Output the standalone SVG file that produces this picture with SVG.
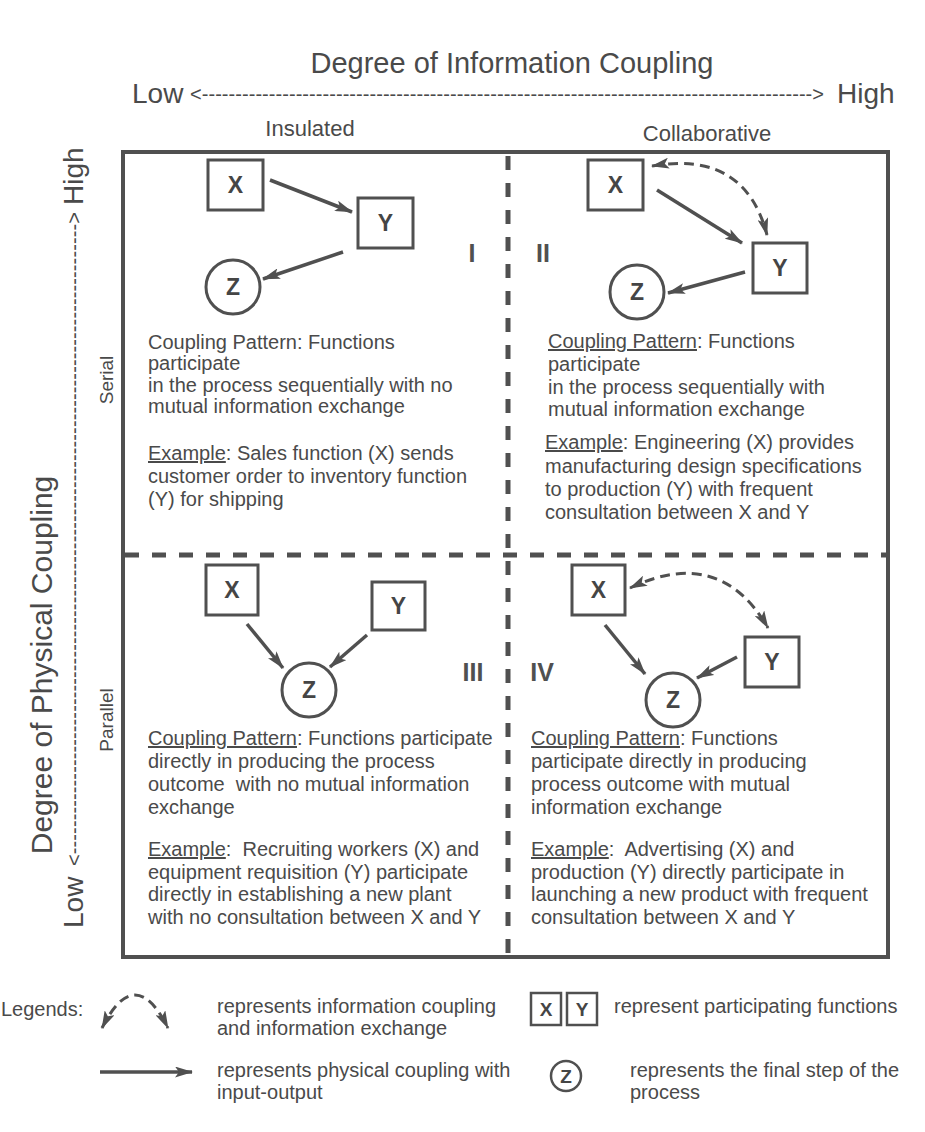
<svg xmlns="http://www.w3.org/2000/svg" width="925" height="1132" viewBox="0 0 925 1132">
  <style>
    text { font-family: "Liberation Sans", Arial, sans-serif; fill: #4a4a4a; }
    .title { font-size: 29px; }
    .axisend { font-size: 28px; }
    .dots { font-size: 20px; }
    .head { font-size: 22px; }
    .side { font-size: 19px; }
    .body { font-size: 20px; }
    .legend { font-size: 20px; }
    .roman { font-size: 25px; font-weight: bold; text-anchor: middle; fill: #505050; }
    .u { text-decoration: underline; }
    .node rect, .node circle { fill: #fff; stroke: #505050; stroke-width: 3; }
    .node text { font-size: 23px; font-weight: bold; text-anchor: middle; fill: #454545; }
    .lnode rect, .lnode circle { fill: #fff; stroke: #505050; stroke-width: 2.5; }
    .lnode text { font-size: 19px; font-weight: bold; text-anchor: middle; fill: #454545; }
    .phys { fill: none; stroke: #505050; stroke-width: 3.5; marker-end: url(#head); }
    .info { fill: none; stroke: #505050; stroke-width: 3; stroke-dasharray: 10 6; marker-start: url(#head); marker-end: url(#head); }
    .frame { fill: none; stroke: #505050; stroke-width: 4; }
    .divider { fill: none; stroke: #505050; stroke-width: 5; stroke-dasharray: 14 13; }
  </style>
  <defs>
    <marker id="head" viewBox="0 0 18 11" refX="17" refY="5.5" markerWidth="18" markerHeight="11" markerUnits="userSpaceOnUse" orient="auto-start-reverse">
      <path d="M0,0 L18,5.5 L0,11 L4,5.5 z" fill="#505050"/>
    </marker>
  </defs>

  <rect width="925" height="1132" fill="#fff"/>

  <!-- horizontal axis -->
  <g id="axis-information">
    <text class="title" x="512" y="73" text-anchor="middle">Degree of Information Coupling</text>
    <text class="axisend" x="132" y="103">Low</text>
    <text class="dots" x="190" y="101" textLength="634" lengthAdjust="spacing">&lt;-------------------------------------------------------------------------------------------&gt;</text>
    <text class="axisend" x="837" y="103">High</text>
    <text class="head" x="310" y="136" text-anchor="middle">Insulated</text>
    <text class="head" x="707" y="141" text-anchor="middle">Collaborative</text>
  </g>

  <!-- vertical axis -->
  <g id="axis-physical">
    <text class="title" transform="translate(52,665) rotate(-90)" text-anchor="middle" style="font-size:30px">Degree of Physical Coupling</text>
    <text class="axisend" transform="translate(83,928) rotate(-90)">Low</text>
    <text class="dots" transform="translate(81,866) rotate(-90)" textLength="654" lengthAdjust="spacing">&lt;---------------------------------------------------------------------------------------------&gt;</text>
    <text class="axisend" transform="translate(83,205) rotate(-90)">High</text>
    <text class="side" transform="translate(113,380) rotate(-90)" text-anchor="middle">Serial</text>
    <text class="side" transform="translate(113,720) rotate(-90)" text-anchor="middle">Parallel</text>
  </g>

  <!-- matrix frame and quadrant dividers -->
  <g id="matrix">
    <rect class="frame" x="123" y="152" width="765" height="805"/>
    <line class="divider" x1="125" y1="555" x2="886" y2="555"/>
    <line class="divider" x1="508" y1="156" x2="508" y2="955"/>
    <text class="roman" x="472" y="262">I</text>
    <text class="roman" x="543" y="262">II</text>
    <text class="roman" x="473" y="681">III</text>
    <text class="roman" x="542" y="681">IV</text>
  </g>

  <!-- quadrant I nodes -->
  <g id="q1-x" class="node"><rect x="208" y="160" width="55" height="50"/><text x="235.5" y="193">X</text></g>
  <g id="q1-y" class="node"><rect x="358" y="198" width="55" height="50"/><text x="385.5" y="231">Y</text></g>
  <g id="q1-z" class="node"><circle cx="233" cy="287" r="27"/><text x="233" y="295">Z</text></g>

  <!-- quadrant II nodes -->
  <g id="q2-x" class="node"><rect x="588" y="160" width="55" height="50"/><text x="615.5" y="193">X</text></g>
  <g id="q2-y" class="node"><rect x="753" y="243" width="54" height="50"/><text x="780" y="276">Y</text></g>
  <g id="q2-z" class="node"><circle cx="637" cy="292" r="27"/><text x="637" y="300">Z</text></g>

  <!-- quadrant III nodes -->
  <g id="q3-x" class="node"><rect x="206" y="565" width="52" height="50"/><text x="232" y="598">X</text></g>
  <g id="q3-y" class="node"><rect x="372" y="582" width="53" height="48"/><text x="398.5" y="614">Y</text></g>
  <g id="q3-z" class="node"><circle cx="309" cy="690" r="27"/><text x="309" y="698">Z</text></g>

  <!-- quadrant IV nodes -->
  <g id="q4-x" class="node"><rect x="572" y="565" width="53" height="50"/><text x="598.5" y="598">X</text></g>
  <g id="q4-y" class="node"><rect x="745" y="637" width="54" height="50"/><text x="772" y="670">Y</text></g>
  <g id="q4-z" class="node"><circle cx="673" cy="700" r="27"/><text x="673" y="708">Z</text></g>

  <!-- connectors -->
  <g id="connectors">
    <path class="phys" d="M270,180 L352,212"/>
    <path class="phys" d="M343,252 L263,279"/>
    <path class="phys" d="M657,190 L742,243"/>
    <path class="phys" d="M745,272 L668,293"/>
    <path class="info" d="M652,166 Q745,150 767,235"/>
    <path class="phys" d="M247,624 L283,668"/>
    <path class="phys" d="M367,635 L330,667"/>
    <path class="phys" d="M605,625 L645,674"/>
    <path class="phys" d="M737,657 L697,678"/>
    <path class="info" d="M630,588 Q720,545 768,628"/>
  </g>

  <!-- quadrant I text -->
  <g id="q1-text">
    <text class="body" x="148" y="349">Coupling Pattern: Functions</text>
    <text class="body" x="148" y="370">participate</text>
    <text class="body" x="148" y="392">in the process sequentially with no</text>
    <text class="body" x="148" y="413">mutual information exchange</text>
    <text class="body" x="148" y="460"><tspan class="u">Example</tspan>: Sales function (X) sends</text>
    <text class="body" x="148" y="483">customer order to inventory function</text>
    <text class="body" x="148" y="506">(Y) for shipping</text>
  </g>

  <!-- quadrant II text -->
  <g id="q2-text">
    <text class="body" x="548" y="348"><tspan class="u">Coupling Pattern</tspan>: Functions</text>
    <text class="body" x="548" y="371">participate</text>
    <text class="body" x="548" y="394">in the process sequentially with</text>
    <text class="body" x="548" y="416">mutual information exchange</text>
    <text class="body" x="545" y="449"><tspan class="u">Example</tspan>: Engineering (X) provides</text>
    <text class="body" x="545" y="473">manufacturing design specifications</text>
    <text class="body" x="545" y="496">to production (Y) with frequent</text>
    <text class="body" x="545" y="519">consultation between X and Y</text>
  </g>

  <!-- quadrant III text -->
  <g id="q3-text">
    <text class="body" x="148" y="745"><tspan class="u">Coupling Pattern</tspan>: Functions participate</text>
    <text class="body" x="148" y="768">directly in producing the process</text>
    <text class="body" x="148" y="791">outcome&#160; with no mutual information</text>
    <text class="body" x="148" y="814">exchange</text>
    <text class="body" x="148" y="856"><tspan class="u">Example</tspan>:&#160; Recruiting workers (X) and</text>
    <text class="body" x="148" y="879">equipment requisition (Y) participate</text>
    <text class="body" x="148" y="901">directly in establishing a new plant</text>
    <text class="body" x="148" y="924">with no consultation between X and Y</text>
  </g>

  <!-- quadrant IV text -->
  <g id="q4-text">
    <text class="body" x="531" y="745"><tspan class="u">Coupling Pattern</tspan>: Functions</text>
    <text class="body" x="531" y="768">participate directly in producing</text>
    <text class="body" x="531" y="791">process outcome with mutual</text>
    <text class="body" x="531" y="814">information exchange</text>
    <text class="body" x="531" y="856"><tspan class="u">Example</tspan>:&#160; Advertising (X) and</text>
    <text class="body" x="531" y="879">production (Y) directly participate in</text>
    <text class="body" x="531" y="901">launching a new product with frequent</text>
    <text class="body" x="531" y="924">consultation between X and Y</text>
  </g>

  <!-- legend -->
  <g id="legend">
    <text class="legend" x="1" y="1016">Legends:</text>
    <path class="info" d="M102,1028 Q135,962 168,1028"/>
    <text class="legend" x="217" y="1013">represents information coupling</text>
    <text class="legend" x="217" y="1035">and information exchange</text>
    <g id="legend-x" class="lnode"><rect x="531" y="993" width="30" height="32"/><text x="546" y="1016">X</text></g>
    <g id="legend-y" class="lnode"><rect x="567" y="993" width="30" height="32"/><text x="582" y="1016">Y</text></g>
    <text class="legend" x="614" y="1013">represent participating functions</text>
    <path class="phys" d="M100,1072 L192,1072"/>
    <text class="legend" x="217" y="1077">represents physical coupling with</text>
    <text class="legend" x="217" y="1099">input-output</text>
    <g id="legend-z" class="lnode"><circle cx="566" cy="1076" r="15"/><text x="566" y="1083">Z</text></g>
    <text class="legend" x="630" y="1077">represents the final step of the</text>
    <text class="legend" x="630" y="1099">process</text>
  </g>
</svg>
